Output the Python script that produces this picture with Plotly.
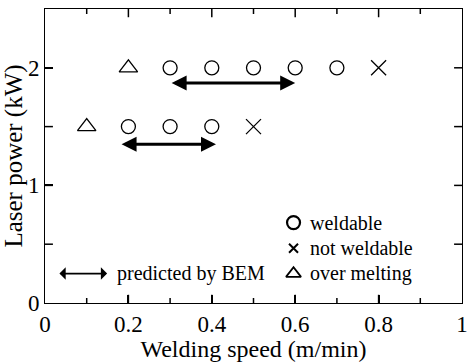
import plotly.graph_objects as go

# data
weldable_x = [0.3, 0.4, 0.5, 0.6, 0.7, 0.2, 0.3, 0.4]
weldable_y = [2.0, 2.0, 2.0, 2.0, 2.0, 1.5, 1.5, 1.5]
notweld_x = [0.8, 0.5]
notweld_y = [2.0, 1.5]
over_x = [0.2, 0.1]
over_y = [2.0, 1.5]
# BEM predicted ranges
bem_start = [0.3, 0.18]
bem_end = [0.6, 0.41]
bem_y = [1.87, 1.35]

legend_labels = ["weldable", "not weldable", "over melting"]
bem_label = "predicted by BEM"

# tick positions
x_major_ticks = [0.2, 0.4, 0.6, 0.8]
x_minor_ticks = [0.1, 0.3, 0.5, 0.7, 0.9]
y_ticks = [0.5, 1.0, 1.5, 2.0]

FONT = "Liberation Serif"
TICKC = "black"

fig = go.Figure()
mk_line = dict(color="black", width=1.3)
fig.add_trace(go.Scatter(x=weldable_x, y=weldable_y, mode="markers",
                         marker=dict(symbol="circle-open", size=14, color="black", line=mk_line), showlegend=False))
fig.add_trace(go.Scatter(x=notweld_x, y=notweld_y, mode="markers",
                         marker=dict(symbol="x-thin-open", size=15, color="black", line=mk_line), showlegend=False))
fig.add_trace(go.Scatter(x=over_x, y=over_y, mode="markers",
                         marker=dict(symbol="triangle-up-open", size=16, color="black", line=mk_line), showlegend=False))

# double arrows (BEM predicted ranges)
for xs, xe, yy in zip(bem_start, bem_end, bem_y):
    fig.add_annotation(x=xe, y=yy, ax=xs, ay=yy, xref="x", yref="y", axref="x", ayref="y",
                       text="", showarrow=True, arrowhead=2, arrowside="end+start",
                       arrowsize=1.0, arrowwidth=3, arrowcolor="black", standoff=0, startstandoff=0)

# legend (drawn manually)
leg_sym_x = 0.596
leg_y = [0.684, 0.465, 0.25]
fig.add_trace(go.Scatter(x=[leg_sym_x], y=[leg_y[0]], mode="markers", showlegend=False,
                         marker=dict(symbol="circle-open", color="black", size=13, line=dict(width=2.2, color="black"))))
fig.add_trace(go.Scatter(x=[leg_sym_x], y=[leg_y[1]], mode="markers", showlegend=False,
                         marker=dict(symbol="x-thin-open", color="black", size=9, line=dict(width=2, color="black"))))
fig.add_trace(go.Scatter(x=[leg_sym_x], y=[leg_y[2]], mode="markers", showlegend=False,
                         marker=dict(symbol="triangle-up-open", color="black", size=13, line=dict(width=1.8, color="black"))))
for lab, yy in zip(legend_labels, leg_y):
    fig.add_annotation(x=0.630, y=yy, xref="x", yref="y", text=lab, showarrow=False,
                       xanchor="left", yanchor="middle", font=dict(family=FONT, size=20, color="black"))
fig.add_annotation(x=0.149, y=0.25, ax=0.031, ay=0.25, xref="x", yref="y", axref="x", ayref="y",
                   text="", showarrow=True, arrowhead=1, arrowside="end+start", arrowsize=1.3,
                   arrowwidth=1.6, arrowcolor="black", standoff=0, startstandoff=0)
fig.add_annotation(x=0.168, y=0.25, xref="x", yref="y", text=bem_label, showarrow=False,
                   xanchor="left", yanchor="middle", font=dict(family=FONT, size=20, color="black"))

# inward tick marks on all four sides, placed via the axes' scales
tick_style = dict(color=TICKC, width=1.5)
for v in x_major_ticks:
    fig.add_shape(type="line", xref="x", yref="y domain", x0=v, x1=v, y0=0, y1=0.028, line=tick_style, layer="above")
    fig.add_shape(type="line", xref="x", yref="y domain", x0=v, x1=v, y0=1, y1=0.972, line=tick_style, layer="above")
for v in x_minor_ticks:
    fig.add_shape(type="line", xref="x", yref="y domain", x0=v, x1=v, y0=0, y1=0.017, line=tick_style, layer="above")
    fig.add_shape(type="line", xref="x", yref="y domain", x0=v, x1=v, y0=1, y1=0.983, line=tick_style, layer="above")
for v in y_ticks:
    fig.add_shape(type="line", xref="x domain", yref="y", x0=0, x1=0.019, y0=v, y1=v, line=tick_style, layer="above")
    fig.add_shape(type="line", xref="x domain", yref="y", x0=1, x1=0.981, y0=v, y1=v, line=tick_style, layer="above")

fig.update_xaxes(range=[0, 1], dtick=0.2, showline=True, linecolor="black", mirror=True,
                 ticks="inside", ticklen=8, tickwidth=1.5, tickcolor=TICKC, ticklabeloverflow="allow",
                 showgrid=False, zeroline=False,
                 title=dict(text="Welding speed (m/min)", font=dict(family=FONT, size=24, color="black"), standoff=6))
fig.update_yaxes(range=[0, 2.5], dtick=1, showline=True, linecolor="black", mirror=True,
                 ticks="inside", ticklen=8, tickwidth=1.5, tickcolor=TICKC,
                 showgrid=False, zeroline=False,
                 title=dict(text="Laser power (kW)", font=dict(family=FONT, size=25, color="black"), standoff=0))
fig.update_layout(width=471, height=362, margin=dict(l=45, r=3, t=9, b=57),
                  plot_bgcolor="white", paper_bgcolor="white",
                  font=dict(family=FONT, color="black", size=23))
fig.write_html("out.html")
